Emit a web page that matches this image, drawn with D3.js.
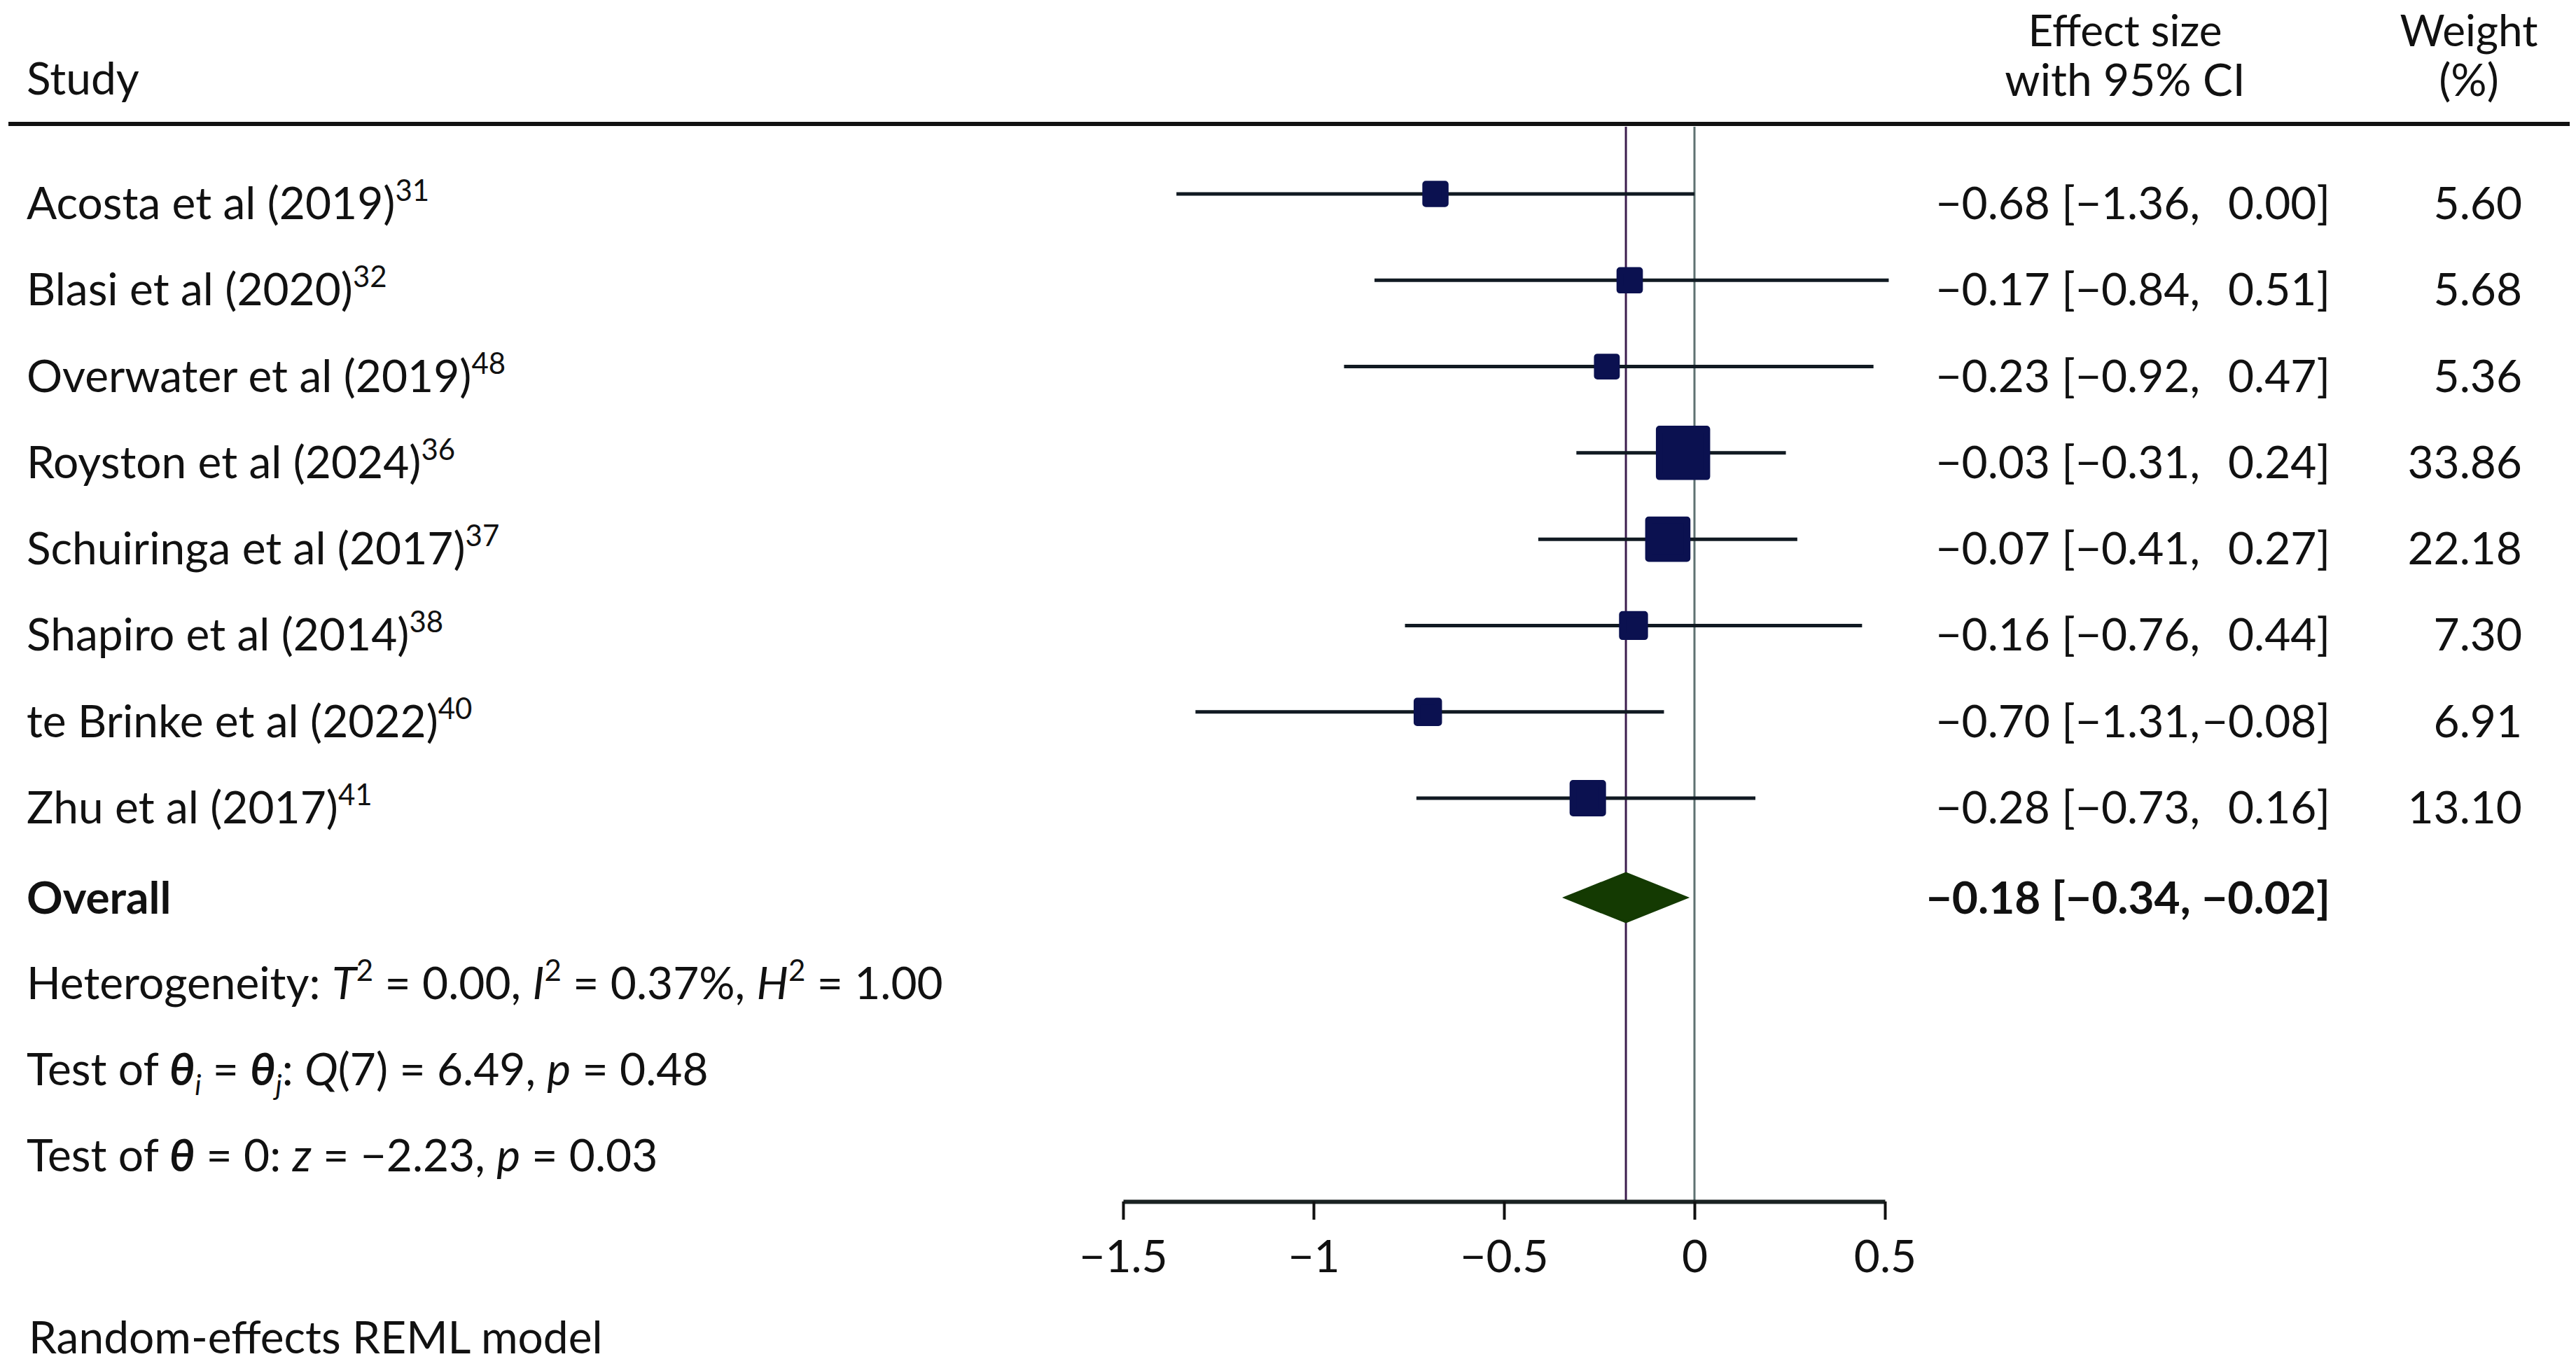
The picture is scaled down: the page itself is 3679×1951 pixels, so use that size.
<!DOCTYPE html>
<html>
<head>
<meta charset="utf-8">
<script src="https://cdn.jsdelivr.net/npm/d3@7"></script>
<style>
  html, body { margin: 0; padding: 0; background: #fff; }
  text { font-family: Lato, "Open Sans", sans-serif; fill: #111; }
</style>
</head>
<body>
<div class="forest"></div>
<script>
// chart data
const studies = ['Acosta et al (2019)', 'Blasi et al (2020)', 'Overwater et al (2019)', 'Royston et al (2024)',
  'Schuiringa et al (2017)', 'Shapiro et al (2014)', 'te Brinke et al (2022)', 'Zhu et al (2017)'];
const refs = ['31', '32', '48', '36', '37', '38', '40', '41'];
const effect = [-0.68, -0.17, -0.23, -0.03, -0.07, -0.16, -0.70, -0.28];
const ciLow = [-1.36, -0.84, -0.92, -0.31, -0.41, -0.76, -1.31, -0.73];
const ciHigh = [0.00, 0.51, 0.47, 0.24, 0.27, 0.44, -0.08, 0.16];
const weights = [5.60, 5.68, 5.36, 33.86, 22.18, 7.30, 6.91, 13.10];
const overall = [-0.18, -0.34, -0.02]; // estimate, low, high
const xTicks = [-1.5, -1, -0.5, 0, 0.5];

const width = 3679;
const height = 1951;
const fmt = d3.format('.2f');

const svg = d3.select('.forest').append('svg')
  .attr('width', width)
  .attr('height', height);

svg.append('rect').attr('width', width).attr('height', height).attr('fill', '#fff');

// scales
const x = d3.scaleLinear().domain([-1.5, 0.5]).range([1604, 2692]);
const y = d3.scalePoint().domain(d3.range(studies.length)).range([277, 1140]);
const boxSize = d3.scaleSqrt().domain([0, 100]).range([0, 116]);

const axisY = 1716;
const overallY = 1282;
const textLeft = 38;

// rich text helper for italics / super / subscripts
function richText(parent, px, py, parts) {
  const t = parent.append('text')
    .attr('x', px).attr('y', py)
    .style('font-size', '64px');
  let reset = 0;
  parts.forEach(function(p) {
    const s = typeof p === 'string' ? { t: p } : p;
    const ts = t.append('tspan').text(s.t);
    if (s.i) ts.style('font-style', 'italic');
    if (s.b) ts.style('font-weight', 700);
    let dy = reset;
    reset = 0;
    if (s.sup) {
      ts.style('font-size', '42px');
      dy += -26;
      reset = 26;
    } else if (s.sub) {
      ts.style('font-size', '40px');
      dy += 14;
      reset = -14;
    }
    if (dy) ts.attr('dy', dy);
  });
  return t;
}

// header (top line kept a little lower so it is not clipped)
svg.append('text').attr('x', textLeft).attr('y', 135).style('font-size', '64px').text('Study');
svg.append('text').attr('x', 3035).attr('y', 66).attr('text-anchor', 'middle').style('font-size', '62px').text('Effect size');
svg.append('text').attr('x', 3035).attr('y', 137).attr('text-anchor', 'middle').style('font-size', '64px').text('with 95% CI');
svg.append('text').attr('x', 3526).attr('y', 66).attr('text-anchor', 'middle').style('font-size', '62px').text('Weight');
svg.append('text').attr('x', 3526).attr('y', 137).attr('text-anchor', 'middle').style('font-size', '64px').text('(%)');

svg.append('line')
  .attr('x1', 12).attr('x2', 3670)
  .attr('y1', 177).attr('y2', 177)
  .attr('stroke', '#111').attr('stroke-width', 6);

// reference lines: overall estimate and no effect
svg.append('line')
  .attr('x1', x(overall[0])).attr('x2', x(overall[0]))
  .attr('y1', 181).attr('y2', axisY)
  .attr('stroke', '#3d1f4f').attr('stroke-width', 3);
svg.append('line')
  .attr('x1', x(0)).attr('x2', x(0))
  .attr('y1', 181).attr('y2', axisY)
  .attr('stroke', '#5f7272').attr('stroke-width', 3);

// study rows
const rows = svg.selectAll('.row')
  .data(studies.map(function(s, i) { return i; }))
  .enter().append('g')
  .attr('class', 'row');

rows.append('line')
  .attr('x1', function(i) { return x(ciLow[i]); })
  .attr('x2', function(i) { return x(ciHigh[i]); })
  .attr('y1', function(i) { return y(i); })
  .attr('y2', function(i) { return y(i); })
  .attr('stroke', '#111a22').attr('stroke-width', 5);

rows.append('rect')
  .attr('x', function(i) { return x(effect[i]) - boxSize(weights[i]) / 2; })
  .attr('y', function(i) { return y(i) - boxSize(weights[i]) / 2; })
  .attr('width', function(i) { return boxSize(weights[i]); })
  .attr('height', function(i) { return boxSize(weights[i]); })
  .attr('fill', '#0b1150')
  .attr('stroke', '#0b1150')
  .attr('stroke-width', 10)
  .attr('stroke-linejoin', 'round');

studies.forEach(function(s, i) {
  const base = y(i) + 36;
  richText(svg, textLeft, base, [s, { t: refs[i], sup: true }]);

  svg.append('text').attr('x', 2928).attr('y', base).attr('text-anchor', 'end')
    .style('font-size', '64px').text(fmt(effect[i]));
  svg.append('text').attr('x', 3142).attr('y', base).attr('text-anchor', 'end')
    .style('font-size', '64px').text('[' + fmt(ciLow[i]) + ',');
  svg.append('text').attr('x', 3328).attr('y', base).attr('text-anchor', 'end')
    .style('font-size', '64px').text(fmt(ciHigh[i]) + ']');
  svg.append('text').attr('x', 3602).attr('y', base).attr('text-anchor', 'end')
    .style('font-size', '64px').text(fmt(weights[i]));
});

// overall diamond
const diamond = [
  [x(overall[1]), overallY],
  [x(overall[0]), overallY - 35],
  [x(overall[2]), overallY],
  [x(overall[0]), overallY + 35]
];
svg.append('path')
  .attr('d', d3.line()(diamond) + 'Z')
  .attr('fill', '#143a02')
  .attr('stroke', '#143a02')
  .attr('stroke-width', 3);

svg.append('text').attr('x', textLeft).attr('y', overallY + 23)
  .style('font-size', '64px').style('font-weight', 700).text('Overall');
svg.append('text').attr('x', 3328).attr('y', overallY + 23).attr('text-anchor', 'end')
  .style('font-size', '64px').style('font-weight', 700)
  .text(fmt(overall[0]) + ' [' + fmt(overall[1]) + ', ' + fmt(overall[2]) + ']');

// heterogeneity and tests
richText(svg, textLeft, 1427, ['Heterogeneity: ', { t: 'T', i: true }, { t: '2', sup: true }, ' = 0.00, ',
  { t: 'I', i: true }, { t: '2', sup: true }, ' = 0.37%, ', { t: 'H', i: true }, { t: '2', sup: true }, ' = 1.00']);
richText(svg, textLeft, 1550, ['Test of ', { t: '\u03B8', i: true, b: true }, { t: 'i', i: true, sub: true }, ' = ',
  { t: '\u03B8', i: true, b: true }, { t: 'j', i: true, sub: true }, ': ', { t: 'Q', i: true }, '(7) = 6.49, ',
  { t: 'p', i: true }, ' = 0.48']);
richText(svg, textLeft, 1673, ['Test of ', { t: '\u03B8', i: true, b: true }, ' = 0: ', { t: 'z', i: true },
  ' = \u22122.23, ', { t: 'p', i: true }, ' = 0.03']);

// x axis
const axis = svg.append('g')
  .attr('class', 'x-axis')
  .attr('transform', `translate(0,${axisY})`)
  .call(d3.axisBottom(x).tickValues(xTicks).tickFormat(d3.format('~g'))
    .tickSize(26).tickSizeOuter(0).tickPadding(30));

axis.select('.domain').attr('stroke', '#1a2222').attr('stroke-width', 6);
axis.selectAll('.tick line').attr('stroke', '#111').attr('stroke-width', 4);
axis.selectAll('.tick text')
  .style('font-family', 'Lato, sans-serif')
  .style('font-size', '64px')
  .attr('fill', '#111');

svg.append('text').attr('x', 41).attr('y', 1933).style('font-size', '64px').text('Random-effects REML model');
</script>
</body>
</html>
